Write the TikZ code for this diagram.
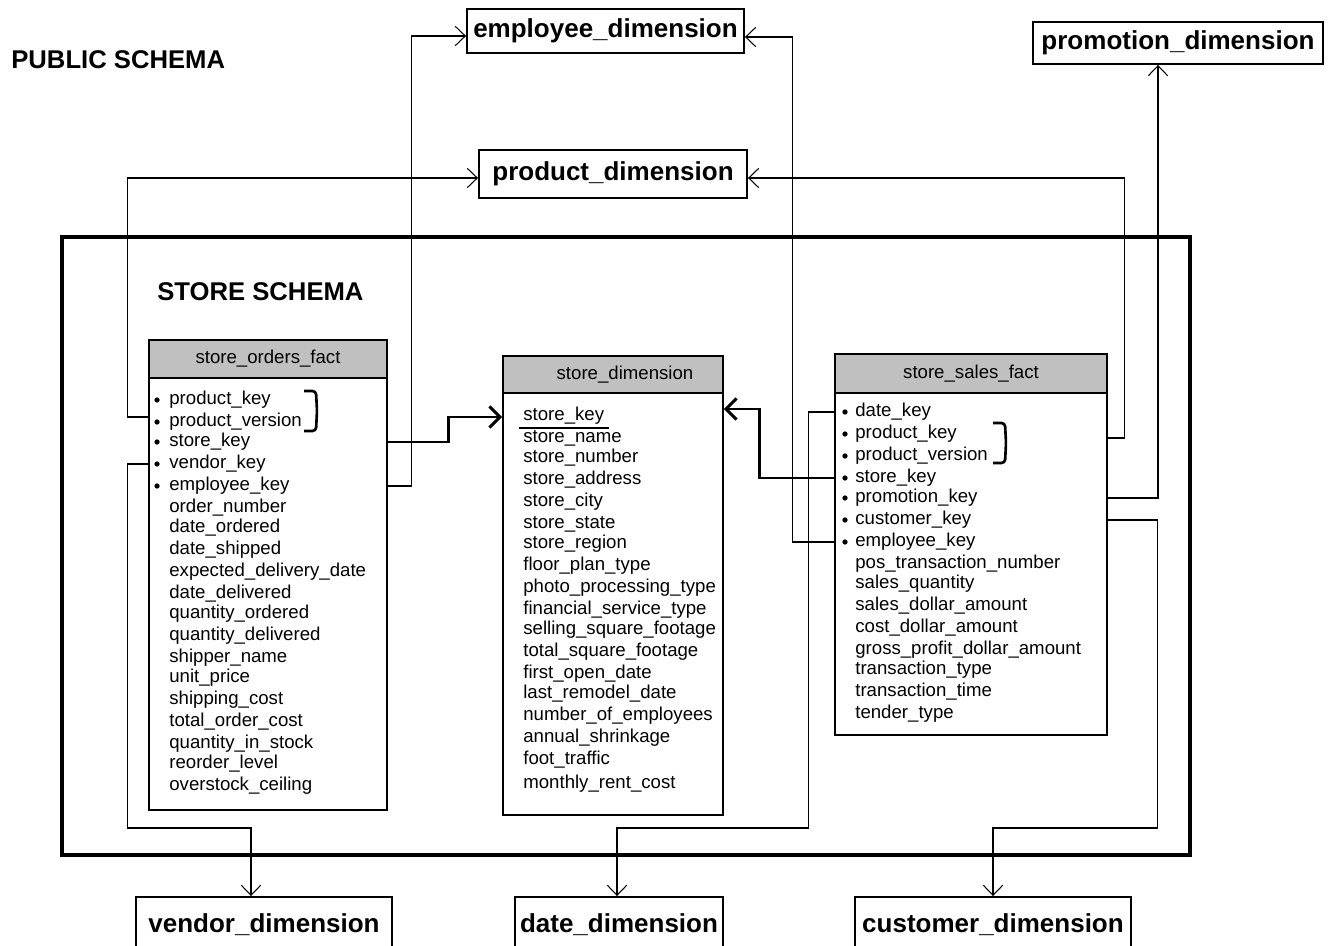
\documentclass[tikz,border=0pt]{standalone}
\usepackage{fontspec}
\setmainfont{Liberation Sans}
\usetikzlibrary{arrows.meta,calc}
\definecolor{hdrgray}{RGB}{192,192,192}

\begin{document}
\begin{tikzpicture}[x=0.02cm,y=-0.02cm,
  row/.style={anchor=west,inner sep=0pt,font=\fontsize{10.6}{12}\selectfont},
  head/.style={draw,line width=1.1pt,fill=hdrgray,inner sep=0pt,font=\fontsize{10.6}{12}\selectfont},
  body/.style={draw,line width=1.1pt,inner sep=0pt},
  dimbox/.style={draw,line width=1.1pt,inner sep=0pt,font=\bfseries\fontsize{14.8}{17}\selectfont},
  schema/.style={anchor=west,inner sep=0pt,font=\bfseries\fontsize{14.6}{17}\selectfont},
  link/.style={line width=0.6pt,-{Straight Barb[length=5.7pt,width=11pt]}},
  keylink/.style={line width=1.7pt,-{Straight Barb[length=6pt,width=12pt]}},
  pairbrace/.style={line width=1.5pt,rounded corners=2pt}]

\useasboundingbox (0,0) rectangle (1333,946);

\node [schema] (public-title) at (11,60) {PUBLIC SCHEMA};

\node [dimbox,minimum width=5.54cm,minimum height=0.88cm] (emp-dim) at (605.5,31) {employee\_dimension};
\node [dimbox,minimum width=5.8cm,minimum height=0.84cm] (promo-dim) at (1178,43) {promotion\_dimension};
\node [dimbox,minimum width=5.36cm,minimum height=0.96cm] (prod-dim) at (613,174) {product\_dimension};

\node [dimbox,minimum width=5.12cm,minimum height=1.12cm] (vend-dim) at (264,925) {vendor\_dimension};
\node [dimbox,minimum width=4.16cm,minimum height=1.12cm] (date-dim) at (619,925) {date\_dimension};
\node [dimbox,minimum width=5.52cm,minimum height=1.12cm] (cust-dim) at (993,925) {customer\_dimension};

%%%%%%%%%%%%%%%%%%%%%%%%%%%%%%%%%%%%%%%%%%%%%%%%%%%%%%%%%%%%%%%%%

\draw [line width=2.8pt] (62,237) rectangle (1190,855);
\node [schema] (store-title) at (157,292) {STORE SCHEMA};

% store_orders_fact
\node [body,minimum width=4.76cm,minimum height=8.64cm] (sof-body) at (268,594) {};
\node [head,minimum width=4.76cm,minimum height=0.76cm] (sof-head) at (268,359) {store\_orders\_fact};

\node [row] (sof-pk) at (169,400) {product\_key};
\node [row] (sof-pv) at (169,422) {product\_version};
\node [row] (sof-sk) at (169,442) {store\_key};
\node [row] (sof-vk) at (169,464) {vendor\_key};
\node [row] (sof-ek) at (169,486) {employee\_key};
\node [row] (sof-on) at (169,508) {order\_number};
\node [row] (sof-do) at (169,528) {date\_ordered};
\node [row] (sof-ds) at (169,550) {date\_shipped};
\node [row] (sof-edd) at (169,572) {expected\_delivery\_date};
\node [row] (sof-dd) at (169,594) {date\_delivered};
\node [row] (sof-qo) at (169,614) {quantity\_ordered};
\node [row] (sof-qd) at (169,636) {quantity\_delivered};
\node [row] (sof-sn) at (169,658) {shipper\_name};
\node [row] (sof-up) at (169,678) {unit\_price};
\node [row] (sof-sc) at (169,700) {shipping\_cost};
\node [row] (sof-toc) at (169,722) {total\_order\_cost};
\node [row] (sof-qis) at (169,744) {quantity\_in\_stock};
\node [row] (sof-rl) at (169,764) {reorder\_level};
\node [row] (sof-oc) at (169,786) {overstock\_ceiling};

\fill ([xshift=-6.8pt]sof-pk.west) circle (1.5pt);
\fill ([xshift=-6.8pt]sof-pv.west) circle (1.5pt);
\fill ([xshift=-6.8pt]sof-sk.west) circle (1.5pt);
\fill ([xshift=-6.8pt]sof-vk.west) circle (1.5pt);
\fill ([xshift=-6.8pt]sof-ek.west) circle (1.5pt);
\draw [pairbrace] (304,391) -- (316,391) -- (317,411) -- (316,431) -- (304,431);

% store_dimension
\node [body,minimum width=4.4cm,minimum height=8.44cm] (sd-body) at (613,604) {};
\node [head,minimum width=4.4cm,minimum height=0.74cm] (sd-head) at (613,374.5) {\hspace*{0.48cm}store\_dimension};

\node [row] (sd-key) at (523,416) {store\_key};
\node [row] (sd-name) at (523,438) {store\_name};
\node [row] (sd-num) at (523,458) {store\_number};
\node [row] (sd-addr) at (523,480) {store\_address};
\node [row] (sd-city) at (523,502) {store\_city};
\node [row] (sd-state) at (523,524) {store\_state};
\node [row] (sd-region) at (523,544) {store\_region};
\node [row] (sd-fpt) at (523,566) {floor\_plan\_type};
\node [row] (sd-ppt) at (523,588) {photo\_processing\_type};
\node [row] (sd-fst) at (523,610) {financial\_service\_type};
\node [row] (sd-ssf) at (523,630) {selling\_square\_footage};
\node [row] (sd-tsf) at (523,652) {total\_square\_footage};
\node [row] (sd-fod) at (523,674) {first\_open\_date};
\node [row] (sd-lrd) at (523,694) {last\_remodel\_date};
\node [row] (sd-noe) at (523,716) {number\_of\_employees};
\node [row] (sd-as) at (523,738) {annual\_shrinkage};
\node [row] (sd-ft) at (523,760) {foot\_traffic};
\node [row] (sd-mrc) at (523,784) {monthly\_rent\_cost};

\draw [line width=1.1pt] ([xshift=-2.5pt,yshift=-1.5pt]sd-key.south west) -- ([xshift=2.5pt,yshift=-1.5pt]sd-key.south east);

% store_sales_fact
\node [body,minimum width=5.44cm,minimum height=6.84cm] (ssf-body) at (971,564) {};
\node [head,minimum width=5.44cm,minimum height=0.78cm] (ssf-head) at (971,373.5) {store\_sales\_fact};

\node [row] (ssf-dk) at (855,412) {date\_key};
\node [row] (ssf-pk) at (855,434) {product\_key};
\node [row] (ssf-pv) at (855,456) {product\_version};
\node [row] (ssf-sk) at (855,478) {store\_key};
\node [row] (ssf-promo) at (855,498) {promotion\_key};
\node [row] (ssf-cust) at (855,520) {customer\_key};
\node [row] (ssf-ek) at (855,542) {employee\_key};
\node [row] (ssf-ptn) at (855,564) {pos\_transaction\_number};
\node [row] (ssf-sq) at (855,584) {sales\_quantity};
\node [row] (ssf-sda) at (855,606) {sales\_dollar\_amount};
\node [row] (ssf-cda) at (855,628) {cost\_dollar\_amount};
\node [row] (ssf-gpda) at (855,650) {gross\_profit\_dollar\_amount};
\node [row] (ssf-tty) at (855,670) {transaction\_type};
\node [row] (ssf-tti) at (855,692) {transaction\_time};
\node [row] (ssf-tdt) at (855,714) {tender\_type};

\fill ([xshift=-5.7pt]ssf-dk.west) circle (1.5pt);
\fill ([xshift=-5.7pt]ssf-pk.west) circle (1.5pt);
\fill ([xshift=-5.7pt]ssf-pv.west) circle (1.5pt);
\fill ([xshift=-5.7pt]ssf-sk.west) circle (1.5pt);
\fill ([xshift=-5.7pt]ssf-promo.west) circle (1.5pt);
\fill ([xshift=-5.7pt]ssf-cust.west) circle (1.5pt);
\fill ([xshift=-5.7pt]ssf-ek.west) circle (1.5pt);
\draw [pairbrace] (993,423) -- (1005,423) -- (1006,443) -- (1005,463) -- (993,463);

%%%%%%%%%%%%%%%%%%%%%%%%%%%%%%%%%%%%%%%%%%%%%%%%%%%%%%%%%%%%%%%%%

\draw [keylink] (sof-body.east |- sof-sk) -- ++(61,0) |- ($(sd-body.west |- sd-key)+(0,1)$);
\draw [keylink] (ssf-body.west |- ssf-sk) -- ++(-75,0) |- ($(sd-body.east |- ssf-dk)+(0,-3)$);

\draw [link] ($(sof-body.west |- sof-pv)+(0,-5)$) -- ++(-21,0) |- ($(prod-dim.west)+(0,4)$);
\draw [link] (sof-body.west |- sof-vk) -- ++(-21,0) -- ++(0,364) -| ($(vend-dim.north)+(-13,0)$);
\draw [link] (sof-body.east |- sof-ek) -- ++(24,0) |- ($(emp-dim.west)+(0,5)$);

\draw [link] (ssf-body.west |- ssf-dk) -- ++(-26,0) -- ++(0,416) -| ($(date-dim.north)+(-2,0)$);
\draw [link] (ssf-body.west |- ssf-ek) -- ++(-42,0) |- ($(emp-dim.east)+(0,6)$);
\draw [link] ($(ssf-body.east |- ssf-pk)+(0,4)$) -- ++(17,0) |- ($(prod-dim.east)+(0,4)$);
\draw [link] (ssf-body.east |- ssf-promo) -| ($(promo-dim.south)+(-20,0)$);
\draw [link] (ssf-body.east |- ssf-cust) -- ++(50,0) -- ++(0,308) -| (cust-dim.north);

\end{tikzpicture}
\end{document}
